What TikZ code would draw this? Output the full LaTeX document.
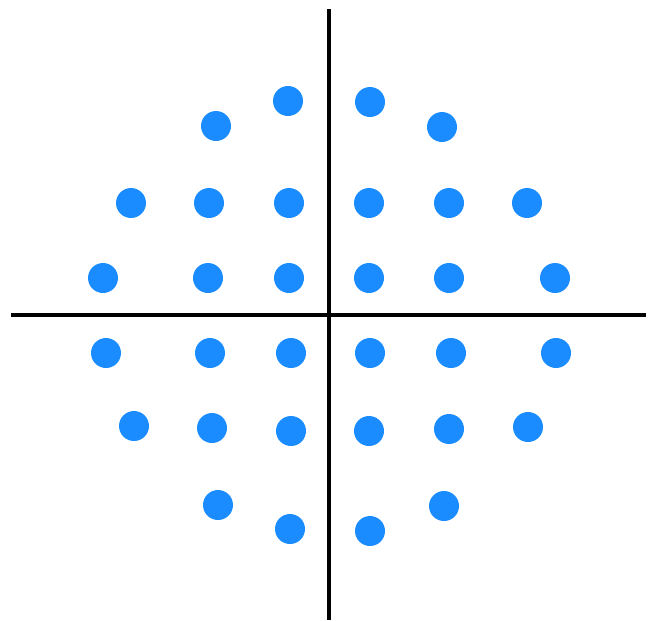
\documentclass[tikz,border=0pt]{standalone}
\usepackage{xcolor}
\definecolor{dotblue}{HTML}{1A8CFF}
\begin{document}
\begin{tikzpicture}[x=0.02cm, y=-0.02cm,
    axis/.style={line width=2.3pt, black},
    symbol/.style={circle, fill=dotblue, inner sep=0pt, minimum size=0.6cm}]
  \useasboundingbox (0,0) rectangle (651,620);
  % axes
  \coordinate (top) at (329,9);
  \coordinate (bottom) at (329,620);
  \coordinate (left) at (11,315);
  \coordinate (right) at (646,315);
  \draw[axis] (top) -- (bottom);
  \draw[axis] (left) -- (right);
  % constellation points
  \foreach \x/\y [count=\i] in {288/101, 370/102, 216/126, 442/127,
      131/203, 209/203, 289/203, 369/203, 449/203, 527/203,
      103/278, 208/278, 289/278, 369/278, 449/278, 555/278,
      106/353, 210/353, 291/353, 370/353, 451/353, 556/353,
      134/426, 212/428, 291/431, 369/431, 449/429, 528/427,
      218/505, 290/529, 370/531, 444/506}
    \node[symbol] (p\i) at (\x,\y) {};
\end{tikzpicture}
\end{document}
